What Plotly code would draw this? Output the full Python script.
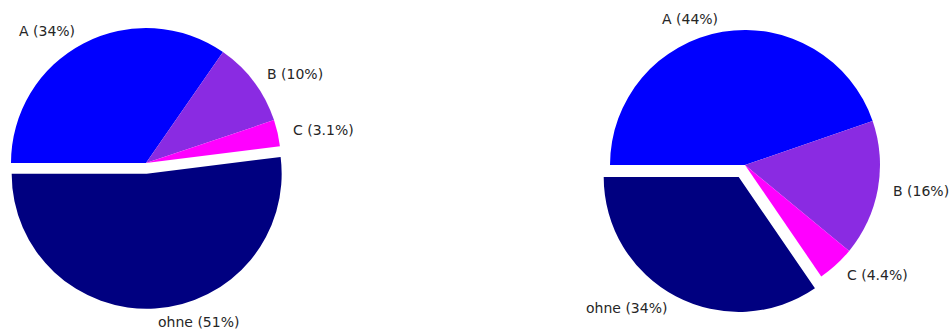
import math
import plotly.graph_objects as go

W, H = 949, 331

labels = ["A", "B", "C", "ohne"]
left_values = [34, 10, 3.1, 51]
right_values = [44, 16, 4.4, 34]
colors = ["#0000FF", "#8A2BE2", "#FF00FF", "#000080"]
left_pull = [0, 0, 0, 0.08]
right_pull = [0, 0, 0, 0.1]

# pie geometry (pixels): centre and radius of each pie
pies = [
    dict(values=left_values, pull=left_pull, cx=146, cy=163, r=135),
    dict(values=right_values, pull=right_pull, cx=745, cy=165, r=135),
]

LABEL_DIST = 1.1
START = 180.0  # first slice starts at 9 o'clock, going clockwise

fig = go.Figure()
annotations = []
for p in pies:
    vals, pull, cx, cy, r = p["values"], p["pull"], p["cx"], p["cy"], p["r"]
    half = r * (1 + max(pull))  # plotly: r = box / (2 + 2*maxPull)
    dom_x = [(cx - half) / W, (cx + half) / W]
    dom_y = [1 - (cy + half) / H, 1 - (cy - half) / H]
    dom_x = [max(0, dom_x[0]), min(1, dom_x[1])]
    fig.add_trace(go.Pie(
        labels=labels,
        values=vals,
        textinfo="none",
        sort=False,
        direction="clockwise",
        rotation=270,
        pull=pull,
        marker=dict(colors=colors, line=dict(width=0)),
        domain=dict(x=dom_x, y=dom_y),
        showlegend=False,
        hoverinfo="label+percent",
    ))
    total = sum(vals)
    cum = 0.0
    for lab, v, pl in zip(labels, vals, pull):
        frac = v / total
        mid = math.radians(START - 360 * (cum + frac / 2))
        cum += frac
        dist = (LABEL_DIST + pl) * r
        px = cx + dist * math.cos(mid)
        py = cy - dist * math.sin(mid)
        annotations.append(dict(
            x=px / W, y=1 - py / H, xref="paper", yref="paper",
            text=f"{lab} ({v:g}%)", showarrow=False,
            xanchor="left" if math.cos(mid) > 0 else "right",
            yanchor="middle",
            font=dict(family="DejaVu Sans", size=14, color="#262626"),
        ))

fig.update_layout(
    width=W,
    height=H,
    margin=dict(l=0, r=0, t=0, b=0),
    paper_bgcolor="white",
    plot_bgcolor="white",
    annotations=annotations,
)

fig.write_html(
    "out.html",
    config={"displayModeBar": False},
    post_script="document.body.style.margin='0';document.body.style.overflow='hidden';",
)
